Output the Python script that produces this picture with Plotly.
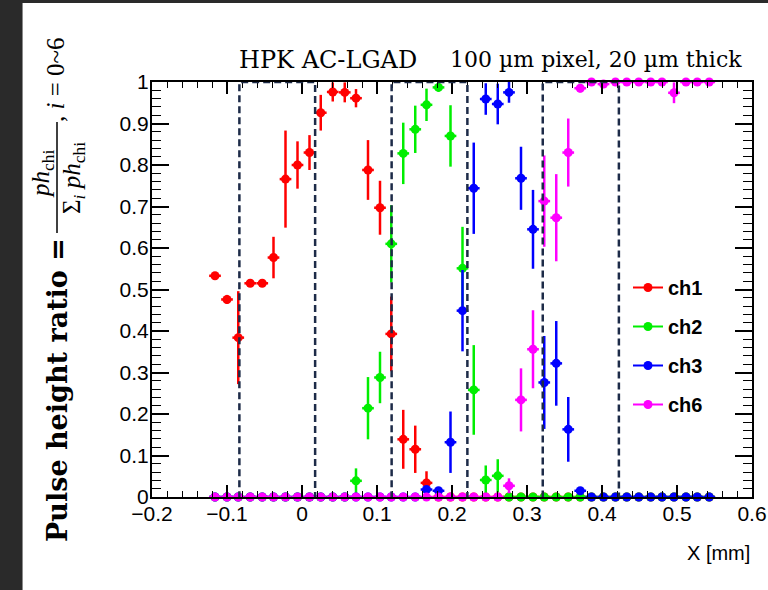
import plotly.graph_objects as go

# ---------------- data ----------------
X_MM = [-0.116, -0.100, -0.085, -0.069, -0.053, -0.038, -0.022, -0.006, 0.010, 0.025,
        0.041, 0.057, 0.072, 0.088, 0.104, 0.119, 0.135, 0.151, 0.166, 0.182,
        0.198, 0.214, 0.229, 0.245, 0.261, 0.276, 0.292, 0.308, 0.323, 0.339,
        0.355, 0.371, 0.386, 0.402, 0.418, 0.433, 0.449, 0.465, 0.480, 0.496,
        0.512, 0.527, 0.543]
X_HALF_BIN = 0.0078

CH1 = [0.533, 0.476, 0.384, 0.515, 0.515, 0.577, 0.766, 0.800, 0.830, 0.926,
       0.976, 0.975, 0.961, 0.788, 0.697, 0.393, 0.139, 0.115, 0.034, 0.0,
       0.0, 0.0, 0.0, 0.0, 0.0, 0.0, 0.0, 0.0, 0.0, 0.0,
       0.0, 0.0, 0.0, 0.0, 0.0, 0.0, 0.0, 0.0, 0.0, 0.0,
       0.0, 0.0, 0.0]
CH1_ERR = [0.005, 0.011, 0.112, 0.005, 0.005, 0.050, 0.117, 0.057, 0.042, 0.043,
           0.023, 0.024, 0.022, 0.072, 0.065, 0.090, 0.071, 0.057, 0.028, 0.0,
           0.0, 0.0, 0.0, 0.0, 0.0, 0.0, 0.0, 0.0, 0.0, 0.0,
           0.0, 0.0, 0.0, 0.0, 0.0, 0.0, 0.0, 0.0, 0.0, 0.0,
           0.0, 0.0, 0.0]

CH2 = [0.0, 0.0, 0.0, 0.0, 0.0, 0.0, 0.0, 0.0, 0.0, 0.0,
       0.0, 0.0, 0.039, 0.214, 0.288, 0.610, 0.828, 0.886, 0.945, 0.987,
       0.870, 0.551, 0.258, 0.041, 0.051, 0.0, 0.0, 0.0, 0.0, 0.0,
       0.0, 0.0, 0.0, 0.0, 0.0, 0.0, 0.0, 0.0, 0.0, 0.0,
       0.0, 0.0, 0.0]
CH2_ERR = [0.0, 0.0, 0.0, 0.0, 0.0, 0.0, 0.0, 0.0, 0.0, 0.0,
           0.0, 0.0, 0.030, 0.075, 0.062, 0.093, 0.074, 0.057, 0.039, 0.010,
           0.074, 0.100, 0.108, 0.035, 0.040, 0.0, 0.0, 0.0, 0.0, 0.0,
           0.0, 0.0, 0.0, 0.0, 0.0, 0.0, 0.0, 0.0, 0.0, 0.0,
           0.0, 0.0, 0.0]

CH3 = [0.0, 0.0, 0.0, 0.0, 0.0, 0.0, 0.0, 0.0, 0.0, 0.0,
       0.0, 0.0, 0.0, 0.0, 0.0, 0.0, 0.0, 0.0, 0.018, 0.015,
       0.132, 0.449, 0.744, 0.959, 0.947, 0.975, 0.768, 0.645, 0.276, 0.322,
       0.163, 0.015, 0.0, 0.0, 0.0, 0.0, 0.0, 0.0, 0.0, 0.0,
       0.0, 0.0, 0.0]
CH3_ERR = [0.0, 0.0, 0.0, 0.0, 0.0, 0.0, 0.0, 0.0, 0.0, 0.0,
           0.0, 0.0, 0.0, 0.0, 0.0, 0.0, 0.0, 0.0, 0.008, 0.008,
           0.074, 0.098, 0.110, 0.038, 0.049, 0.025, 0.076, 0.095, 0.112, 0.102,
           0.078, 0.008, 0.0, 0.0, 0.0, 0.0, 0.0, 0.0, 0.0, 0.0,
           0.0, 0.0, 0.0]

CH6 = [0.0, 0.0, 0.0, 0.0, 0.0, 0.0, 0.0, 0.0, 0.0, 0.0,
       0.0, 0.0, 0.0, 0.0, 0.0, 0.0, 0.0, 0.0, 0.0, 0.0,
       0.0, 0.0, 0.0, 0.0, 0.0, 0.027, 0.234, 0.356, 0.713, 0.673,
       0.830, 0.985, 1.0, 0.995, 1.0, 1.0, 1.0, 1.0, 1.0, 0.974,
       1.0, 1.0, 1.0]
CH6_ERR = [0.0, 0.0, 0.0, 0.0, 0.0, 0.0, 0.0, 0.0, 0.0, 0.0,
           0.0, 0.0, 0.0, 0.0, 0.0, 0.0, 0.0, 0.0, 0.0, 0.0,
           0.0, 0.0, 0.0, 0.0, 0.0, 0.018, 0.076, 0.094, 0.110, 0.105,
           0.082, 0.010, 0.0, 0.006, 0.0, 0.0, 0.0, 0.0, 0.0, 0.025,
           0.0, 0.0, 0.0]

SERIES_NAMES = ["ch1", "ch2", "ch3", "ch6"]
PIXEL_BOXES = [(-0.0835, 0.0175), (0.1195, 0.2205), (0.3210, 0.4225)]

X_TICKS = [-0.2, -0.1, 0.0, 0.1, 0.2, 0.3, 0.4, 0.5, 0.6]
X_TICK_TEXT = ["\u22120.2", "\u22120.1", "0", "0.1", "0.2", "0.3", "0.4", "0.5", "0.6"]
Y_TICKS = [0.0, 0.1, 0.2, 0.3, 0.4, 0.5, 0.6, 0.7, 0.8, 0.9, 1.0]
Y_TICK_TEXT = ["0", "0.1", "0.2", "0.3", "0.4", "0.5", "0.6", "0.7", "0.8", "0.9", "1"]

# ---------------- figure ----------------
W, H = 768, 590
L, R, T, B = 152, 16, 82, 93
PW, PH = W - L - R, H - T - B


def px_x(px):
    return (px - L) / PW


def px_y(py):
    return (H - B - py) / PH


COLORS = ["#ff0000", "#00ee00", "#0000ff", "#ff00ff"]
values = [CH1, CH2, CH3, CH6]
errors = [CH1_ERR, CH2_ERR, CH3_ERR, CH6_ERR]

fig = go.Figure()
for name, col, yv, ye in zip(SERIES_NAMES, COLORS, values, errors):
    fig.add_trace(go.Scatter(
        x=X_MM, y=yv, mode="markers", showlegend=False, cliponaxis=False,
        marker=dict(symbol="circle", size=9, color=col),
        error_y=dict(type="data", array=ye, color=col, thickness=2.5, width=0),
        error_x=dict(type="constant", value=X_HALF_BIN, color=col, thickness=2.5, width=0),
    ))

# legend entries
for i, (name, col) in enumerate(zip(SERIES_NAMES, COLORS)):
    fig.add_trace(go.Scatter(
        x=[None], y=[None], mode="lines+markers", name="<b>%s</b>" % name,
        legendgroup=name, line=dict(color=col, width=2),
        marker=dict(symbol="circle", size=9, color=col),
    ))

shapes = []
for x0, x1 in PIXEL_BOXES:
    shapes.append(dict(type="rect", xref="x", yref="y", x0=x0, x1=x1, y0=-0.008, y1=1.0,
                       line=dict(color="#1d2b48", width=2.5, dash="7px,4px"),
                       fillcolor="rgba(0,0,0,0)", layer="above"))

# dark page border (left and top strips)
shapes.append(dict(type="rect", xref="paper", yref="paper", x0=px_x(0), x1=px_x(22),
                   y0=px_y(H), y1=px_y(0), fillcolor="#2a2a2a", line=dict(width=0), layer="below"))
shapes.append(dict(type="rect", xref="paper", yref="paper", x0=px_x(0), x1=px_x(W),
                   y0=px_y(3), y1=px_y(0), fillcolor="#2a2a2a", line=dict(width=0), layer="below"))
shapes.append(dict(type="line", xref="paper", yref="paper", x0=px_x(22.5), x1=px_x(22.5),
                   y0=px_y(H), y1=px_y(3), line=dict(color="#8a8a8a", width=1)))
# fraction bar of the y-axis title
shapes.append(dict(type="line", xref="paper", yref="paper", x0=px_x(57), x1=px_x(57),
                   y0=px_y(233), y1=px_y(122), line=dict(color="black", width=1.5)))

serif = "Liberation Serif"
ann = []
# title
ann.append(dict(xref="paper", yref="paper", x=px_x(237), y=px_y(60), xanchor="left", yanchor="middle",
                text="HPK AC-LGAD", showarrow=False, font=dict(family="DejaVu Serif", size=24, color="black")))
ann.append(dict(xref="paper", yref="paper", x=px_x(744), y=px_y(60), xanchor="right", yanchor="middle",
                text="100 \u00b5m pixel, 20 \u00b5m thick", showarrow=False,
                font=dict(family="DejaVu Serif", size=22, color="black")))
# x-axis title
ann.append(dict(xref="paper", yref="paper", x=px_x(752), y=px_y(553), xanchor="right", yanchor="middle",
                text="X [mm]", showarrow=False, font=dict(family="Liberation Sans", size=20, color="black")))
# y-axis title pieces (rotated)
ann.append(dict(xref="paper", yref="paper", x=px_x(57), y=px_y(390), xanchor="center", yanchor="middle",
                textangle=-90, text="<b>Pulse height ratio =</b>", showarrow=False,
                font=dict(family="DejaVu Serif", size=27, color="black")))
ann.append(dict(xref="paper", yref="paper", x=px_x(42), y=px_y(174), xanchor="center", yanchor="middle",
                textangle=-90, text="<i>ph</i><sub>chi</sub>", showarrow=False,
                font=dict(family=serif, size=25, color="black")))
ann.append(dict(xref="paper", yref="paper", x=px_x(73), y=px_y(178), xanchor="center", yanchor="middle",
                textangle=-90, text="\u03a3<sub><i>i</i></sub> <i>ph</i><sub>chi</sub>", showarrow=False,
                font=dict(family=serif, size=25, color="black")))
ann.append(dict(xref="paper", yref="paper", x=px_x(55), y=px_y(80), xanchor="center", yanchor="middle",
                textangle=-90, text=", <i>i</i> = 0~6", showarrow=False,
                font=dict(family=serif, size=25, color="black")))

tickfont = dict(family="Liberation Sans", size=21, color="black")
fig.update_xaxes(
    range=[-0.2, 0.6], tickmode="array", tickvals=X_TICKS, ticktext=X_TICK_TEXT,
    ticks="inside", ticklen=12, tickwidth=1.5, tickcolor="black", ticklabelstandoff=-3,
    minor=dict(tick0=0, dtick=0.02, ticks="inside", ticklen=6, tickwidth=1.2, tickcolor="black", showgrid=False),
    showline=True, linecolor="black", linewidth=2, mirror="allticks",
    showgrid=False, zeroline=False, tickfont=tickfont,
)
fig.update_yaxes(
    range=[0, 1], tickmode="array", tickvals=Y_TICKS, ticktext=Y_TICK_TEXT,
    ticks="inside", ticklen=17, tickwidth=1.5, tickcolor="black", ticklabelstandoff=-3,
    minor=dict(tick0=0, dtick=0.02, ticks="inside", ticklen=9, tickwidth=1.2, tickcolor="black", showgrid=False),
    showline=True, linecolor="black", linewidth=2, mirror="allticks",
    showgrid=False, zeroline=False, tickfont=tickfont,
)

fig.update_layout(
    width=W, height=H, margin=dict(l=L, r=R, t=T, b=B, autoexpand=False),
    paper_bgcolor="white", plot_bgcolor="white",
    shapes=shapes, annotations=ann, showlegend=True,
    legend=dict(x=px_x(628), y=px_y(268), xanchor="left", yanchor="top",
                bgcolor="rgba(0,0,0,0)", borderwidth=0, tracegroupgap=10, itemwidth=30,
                traceorder="grouped",
                font=dict(family="Liberation Sans", size=20, color="black")),
)

fig.write_html("out.html", config={"displayModeBar": False},
               post_script="document.body.style.margin='0px';")
